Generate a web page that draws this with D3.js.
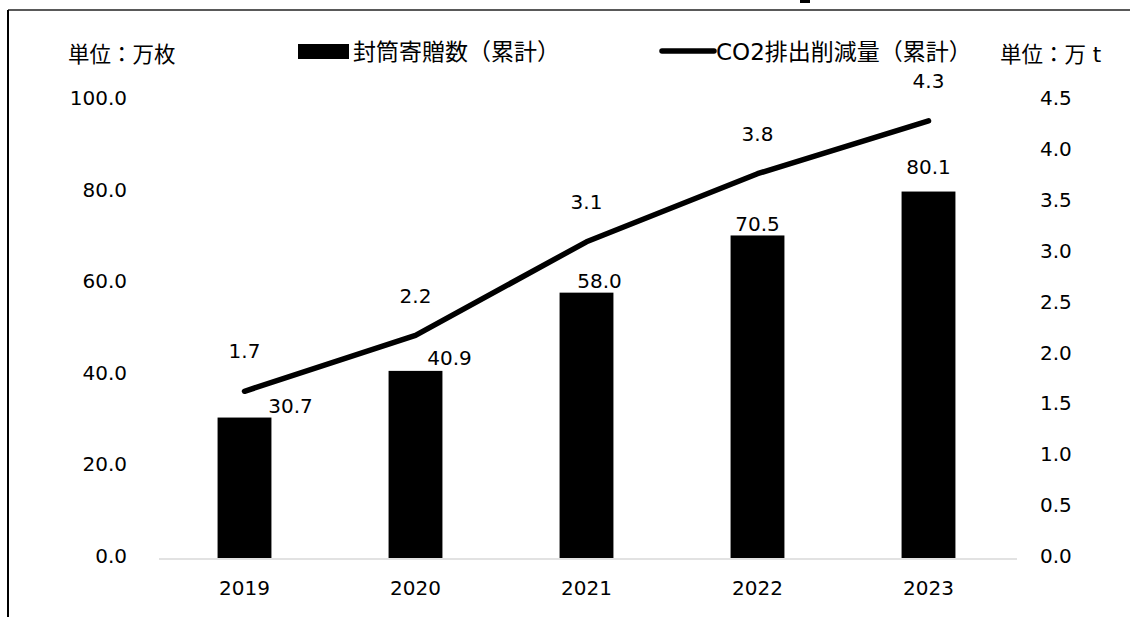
<!DOCTYPE html>
<html>
<head>
<meta charset="utf-8">
<script src="https://cdn.jsdelivr.net/npm/d3@7"></script>
<style>
  html, body { margin: 0; padding: 0; background: #fff; }
  text { font-family: "DejaVu Sans", "Noto Sans CJK JP", sans-serif; fill: #000; }
</style>
</head>
<body>
<svg id="chart" width="1130" height="617"></svg>
<script>
// chart data
var years = ["2019", "2020", "2021", "2022", "2023"];
var envelopeValues = [30.7, 40.9, 58.0, 70.5, 80.1];
var co2Values = [1.64, 2.19, 3.11, 3.78, 4.30];
var co2Labels = ["1.7", "2.2", "3.1", "3.8", "4.3"];
var leftTicks = [0, 20, 40, 60, 80, 100];
var rightTicks = [0, 0.5, 1.0, 1.5, 2.0, 2.5, 3.0, 3.5, 4.0, 4.5];
var seriesNames = ["封筒寄贈数（累計）", "CO2排出削減量（累計）"];
var unitLeft = "単位：万枚", unitRight = "単位：万 t";

// label nudges (the labels were moved by hand in the original)
var barLabelShift = [[46, -12], [34, -13], [13, -12], [0, -12], [0, -25]];

var svg = d3.select("#chart");
var plot = {left: 159, right: 1014, top: 100.5, bottom: 558};

// frame
svg.append("line").attr("x1", 8).attr("y1", 10).attr("x2", 1130).attr("y2", 10)
	.attr("stroke", "#222").attr("stroke-width", 1.5);
svg.append("line").attr("x1", 8).attr("y1", 10).attr("x2", 8).attr("y2", 617)
	.attr("stroke", "#000").attr("stroke-width", 2);
svg.append("rect").attr("x", 800).attr("y", 0).attr("width", 10).attr("height", 3).attr("fill", "#000");

var x = d3.scaleBand().domain(years).range([plot.left, plot.right]).paddingInner(0.685).paddingOuter(0.3425);
var yL = d3.scaleLinear().domain([0, 100]).range([plot.bottom, plot.top]);
var yR = d3.scaleLinear().domain([0, 4.5]).range([plot.bottom, plot.top]);
var cx = function(d){ return x(d) + x.bandwidth() / 2; };

// bars
svg.selectAll(".bar").data(envelopeValues).enter().append("rect")
	.attr("class", "bar")
	.attr("x", function(d, i){ return x(years[i]); })
	.attr("y", function(d){ return yL(d); })
	.attr("width", x.bandwidth())
	.attr("height", function(d){ return yL(0) - yL(d); })
	.attr("fill", "#000");

// category axis line
svg.append("line").attr("x1", plot.left).attr("x2", plot.right + 3)
	.attr("y1", plot.bottom + 1).attr("y2", plot.bottom + 1)
	.attr("stroke", "#d9d9d9").attr("stroke-width", 1.5);

// left axis
var axL = svg.append("g").attr("transform", "translate(127,0)")
	.call(d3.axisLeft(yL).tickValues(leftTicks).tickFormat(d3.format(".1f")).tickSize(0).tickPadding(0));
axL.select(".domain").remove();
axL.selectAll("text").attr("font-size", 20).attr("dy", "0.32em").attr("transform", "translate(0,-2)");

// right axis
var axR = svg.append("g").attr("transform", "translate(1040,0)")
	.call(d3.axisRight(yR).tickValues(rightTicks).tickFormat(d3.format(".1f")).tickSize(0).tickPadding(0));
axR.select(".domain").remove();
axR.selectAll("text").attr("font-size", 20).attr("dy", "0.32em").attr("transform", "translate(0,-2)");

// x labels
svg.selectAll(".xlab").data(years).enter().append("text")
	.attr("class", "xlab")
	.attr("x", cx).attr("y", 595)
	.attr("text-anchor", "middle").attr("font-size", 20)
	.text(function(d){ return d; });

// co2 line
var line = d3.line()
	.x(function(d, i){ return cx(years[i]); })
	.y(function(d){ return yR(d); });
svg.append("path").datum(co2Values)
	.attr("d", line)
	.attr("fill", "none").attr("stroke", "#000").attr("stroke-width", 5.5)
	.attr("stroke-linecap", "round").attr("stroke-linejoin", "round");

// data labels
svg.selectAll(".barlab").data(envelopeValues).enter().append("text")
	.attr("class", "barlab")
	.attr("x", function(d, i){ return cx(years[i]) + barLabelShift[i][0]; })
	.attr("y", function(d, i){ return yL(d) + barLabelShift[i][1]; })
	.attr("dy", "0.36em")
	.attr("text-anchor", "middle").attr("font-size", 20)
	.text(function(d){ return d3.format(".1f")(d); });

svg.selectAll(".co2lab").data(co2Values).enter().append("text")
	.attr("class", "co2lab")
	.attr("x", function(d, i){ return cx(years[i]); })
	.attr("y", function(d){ return yR(d) - 40; })
	.attr("dy", "0.36em")
	.attr("text-anchor", "middle").attr("font-size", 20)
	.text(function(d, i){ return co2Labels[i]; });

// units
svg.append("text").attr("x", 68).attr("y", 62).attr("font-size", 21.5).text(unitLeft);
svg.append("text").attr("x", 1000).attr("y", 62).attr("font-size", 21.5).text(unitRight);

// legend
svg.append("rect").attr("x", 298).attr("y", 44).attr("width", 51).attr("height", 15).attr("fill", "#000");
svg.append("text").attr("x", 353).attr("y", 60).attr("font-size", 23).text(seriesNames[0]);
svg.append("line").attr("x1", 662).attr("x2", 714).attr("y1", 51).attr("y2", 51)
	.attr("stroke", "#000").attr("stroke-width", 5.5).attr("stroke-linecap", "round");
svg.append("text").attr("x", 716).attr("y", 60).attr("font-size", 23).text(seriesNames[1]);
</script>
</body>
</html>
